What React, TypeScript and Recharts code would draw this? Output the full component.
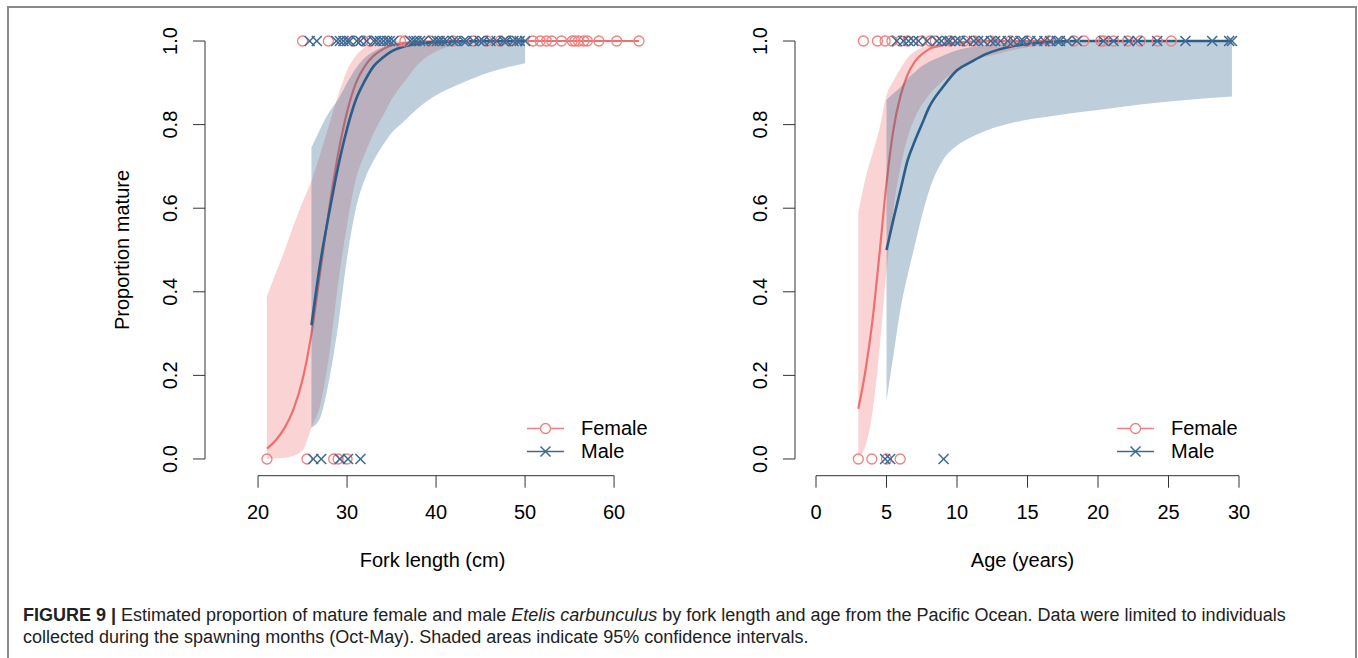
import React from 'react';
import { ComposedChart, Area, Line, Scatter, XAxis, YAxis, ReferenceLine } from 'recharts';

// fitted curves and 95% CI, fork length panel
const flFemFitX = [21, 22, 23, 24, 25, 26, 27, 28, 29, 30, 31, 32, 33, 34, 35, 37, 40, 50, 62.8];
const flFemFitY = [0.025, 0.045, 0.075, 0.12, 0.19, 0.3, 0.45, 0.6, 0.73, 0.83, 0.9, 0.94, 0.965, 0.98, 0.99, 0.996, 1, 1, 1];
const flMaleFitX = [26, 27, 28, 29, 30, 31, 32, 33, 34, 35, 37, 40, 45, 50];
const flMaleFitY = [0.32, 0.47, 0.59, 0.7, 0.79, 0.86, 0.905, 0.94, 0.96, 0.975, 0.99, 0.997, 1, 1];

const flFemBandX = [21, 22, 23, 24, 25, 26, 27, 28, 29, 30, 31, 32, 33, 34, 35, 36.7, 38, 40, 42, 45, 50, 62.8];
const flFemBandLo = [0, 0.002, 0.003, 0.008, 0.02, 0.075, 0.13, 0.25, 0.42, 0.56, 0.67, 0.73, 0.78, 0.82, 0.86, 0.91, 0.945, 0.975, 0.99, 0.997, 1, 1];
const flFemBandHi = [0.39, 0.445, 0.5, 0.56, 0.615, 0.665, 0.73, 0.8, 0.87, 0.93, 0.965, 0.985, 0.995, 1, 1, 1, 1, 1, 1, 1, 1, 1];
const flMaleBandX = [26, 27, 28, 29, 30, 31, 32, 33, 34, 35, 36, 38, 40, 43, 46, 50];
const flMaleBandLo = [0.075, 0.1, 0.19, 0.32, 0.48, 0.6, 0.67, 0.715, 0.75, 0.78, 0.8, 0.84, 0.87, 0.9, 0.925, 0.947];
const flMaleBandHi = [0.745, 0.79, 0.83, 0.86, 0.9, 0.935, 0.96, 0.975, 0.985, 0.99, 0.995, 1, 1, 1, 1, 1];

// observed maturity, fork length
const flFemMature = [25.0, 27.9, 30.7, 31.8, 32.6, 36.0, 36.5, 39.3, 41.9, 44.2, 45.7, 47.2, 48.3, 50.9, 51.7, 52.4, 53.0, 54.1, 55.3, 55.6, 56.0, 56.6, 57.0, 58.3, 60.3, 62.8];
const flFemImmature = [21.0, 25.5, 28.5, 29.0, 30.0];
const flMaleMature = [25.8, 26.6, 28.8, 29.2, 29.6, 30.0, 30.3, 31.1, 31.5, 32.2, 33.0, 33.3, 33.7, 34.1, 34.5, 34.8, 35.2, 37.1, 37.5, 37.8, 38.2, 38.6, 39.7, 40.1, 40.4, 40.8, 41.2, 41.9, 42.3, 43.1, 43.4, 44.2, 44.9, 45.3, 46.1, 46.8, 47.6, 47.9, 48.7, 49.1, 49.4, 50.0];
const flMaleImmature = [26.2, 27.1, 29.2, 30.1, 31.5];

// fitted curves and 95% CI, age panel
const ageFemFitX = [3, 3.5, 4, 4.5, 5, 5.5, 6, 6.5, 7, 8, 9, 10, 12, 25.2];
const ageFemFitY = [0.12, 0.21, 0.33, 0.49, 0.66, 0.79, 0.87, 0.92, 0.95, 0.98, 0.99, 0.996, 1, 1];
const ageMaleFitX = [5, 5.5, 6, 6.5, 7, 7.5, 8, 9, 10, 11, 12, 13, 14, 16, 18, 29.5];
const ageMaleFitY = [0.5, 0.575, 0.645, 0.715, 0.76, 0.8, 0.84, 0.89, 0.93, 0.95, 0.968, 0.98, 0.988, 0.996, 1, 1];

const ageFemBandX = [3, 3.5, 4, 4.5, 5, 5.5, 6, 6.5, 7, 8, 9, 10, 11, 13, 15, 18, 20, 25.2];
const ageFemBandLo = [0.005, 0.03, 0.11, 0.26, 0.45, 0.6, 0.7, 0.77, 0.815, 0.87, 0.905, 0.93, 0.95, 0.97, 0.985, 0.995, 1, 1];
const ageFemBandHi = [0.59, 0.67, 0.73, 0.79, 0.87, 0.905, 0.935, 0.96, 0.975, 0.99, 0.997, 1, 1, 1, 1, 1, 1, 1];
const ageMaleBandX = [5, 5.5, 6, 6.5, 7, 7.5, 8, 9, 10, 11, 12, 14, 17, 20, 23, 26, 29.5];
const ageMaleBandLo = [0.14, 0.25, 0.36, 0.44, 0.51, 0.58, 0.64, 0.715, 0.75, 0.77, 0.785, 0.805, 0.822, 0.835, 0.848, 0.858, 0.867];
const ageMaleBandHi = [0.859, 0.875, 0.89, 0.91, 0.925, 0.94, 0.95, 0.965, 0.978, 0.985, 0.99, 0.997, 1, 1, 1, 1, 1];

// observed maturity, age
const ageFemMature = [3.36, 4.36, 4.9, 5.38, 6.0, 6.5, 7.5, 8.1, 8.46, 9.5, 10.5, 11.2, 12.4, 13.8, 15.0, 16.5, 18.3, 19.0, 20.2, 20.4, 21.1, 22.1, 23.0, 24.2, 25.2];
const ageFemImmature = [3.0, 3.96, 5.0, 5.97];
const ageMaleMature = [5.73, 6.2, 6.56, 6.9, 7.27, 7.87, 8.58, 8.9, 9.3, 9.5, 9.88, 10.2, 10.7, 11.2, 11.5, 11.9, 12.4, 12.7, 13.1, 13.6, 14.0, 14.5, 14.7, 15.2, 15.7, 16.2, 16.6, 17.1, 17.3, 17.8, 18.5, 20.4, 21.1, 22.2, 22.8, 24.2, 26.2, 28.1, 29.3, 29.5];
const ageMaleImmature = [4.9, 5.26, 9.05];

const flTicks = [20, 30, 40, 50, 60];
const ageTicks = [0, 5, 10, 15, 20, 25, 30];
const yTicks = [0, 0.2, 0.4, 0.6, 0.8, 1];

const RED = '#ef6f6f';
const RED_PT = '#f27f7f';
const BLUE = '#2c5c88';
const BLUE_PT = '#3d6994';
const AXIS = '#333';
const FONT = '"Liberation Sans", Arial, Helvetica, sans-serif';

const curve = (xs: number[], ys: number[]) => xs.map((x, i) => ({ x, y: ys[i] }));
const band = (xs: number[], lo: number[], hi: number[]) => xs.map((x, i) => ({ x, ci: [lo[i], hi[i]] }));
const pts = (xs: number[], y: number) => xs.map((x) => ({ x, y }));

const OpenCircle = (p: any) => (
  <circle cx={p.cx} cy={p.cy} r={5} fill="none" stroke={RED_PT} strokeWidth={1.3} />
);

const Cross = (p: any) => {
  const s = 5;
  return (
    <g stroke={BLUE_PT} strokeWidth={1.5}>
      <line x1={p.cx - s} y1={p.cy - s} x2={p.cx + s} y2={p.cy + s} />
      <line x1={p.cx - s} y1={p.cy + s} x2={p.cx + s} y2={p.cy - s} />
    </g>
  );
};

const YTick = (props: any) => {
  const { x, y, payload } = props;
  return (
    <text x={x} y={y} dy="0.36em" textAnchor="middle" fontSize={20} fill="#000"
      transform={`rotate(-90, ${x}, ${y})`}>
      {Number(payload.value).toFixed(1)}
    </text>
  );
};

const PanelLegend = () => (
  <div style={{ position: 'absolute', left: 527, top: 417, fontSize: 20, lineHeight: '23px', color: '#000' }}>
    <div style={{ display: 'flex', alignItems: 'center', height: 23 }}>
      <svg width={54} height={23}>
        <line x1={0} y1={11.5} x2={37} y2={11.5} stroke={RED_PT} strokeWidth={1.5} />
        <circle cx={18.5} cy={11.5} r={5} fill="#fff" stroke={RED_PT} strokeWidth={1.3} />
      </svg>
      <span>Female</span>
    </div>
    <div style={{ display: 'flex', alignItems: 'center', height: 23 }}>
      <svg width={54} height={23}>
        <line x1={0} y1={11.5} x2={37} y2={11.5} stroke={BLUE_PT} strokeWidth={1.5} />
        <g stroke={BLUE_PT} strokeWidth={1.5}>
          <line x1={13.5} y1={6.5} x2={23.5} y2={16.5} />
          <line x1={13.5} y1={16.5} x2={23.5} y2={6.5} />
        </g>
      </svg>
      <span>Male</span>
    </div>
  </div>
);

interface PanelProps {
  femFit: any[];
  maleFit: any[];
  femBand: any[];
  maleBand: any[];
  femMature: any[];
  femImmature: any[];
  maleMature: any[];
  maleImmature: any[];
  xDomain: [number, number];
  xTicks: number[];
  xLabel: string;
  yLabel?: string;
  left: number;
}

const Panel: React.FC<PanelProps> = (p) => {
  const [x0] = p.xDomain;
  const t0 = p.xTicks[0];
  const t1 = p.xTicks[p.xTicks.length - 1];
  return (
    <div style={{ position: 'absolute', left: p.left, top: 0, width: 700, height: 600 }}>
      <ComposedChart width={700} height={600} margin={{ top: 24.3, right: 40, left: 105, bottom: 24.3 }}>
        <XAxis
          type="number"
          dataKey="x"
          domain={p.xDomain}
          ticks={p.xTicks}
          interval={0}
          allowDataOverflow
          axisLine={false}
          tickLine={{ stroke: AXIS }}
          tickSize={12}
          tickMargin={17}
          height={100}
          tick={{ fontSize: 20, fill: '#000' }}
          label={{ value: p.xLabel, position: 'insideBottom', offset: 9, fontSize: 20, fill: '#000' }}
        />
        <YAxis
          type="number"
          domain={[-0.04, 1.04]}
          ticks={yTicks}
          interval={0}
          allowDataOverflow
          axisLine={false}
          tickLine={{ stroke: AXIS }}
          tickSize={12}
          tickMargin={23}
          width={100}
          tick={<YTick />}
          label={
            p.yLabel
              ? { value: p.yLabel, angle: -90, position: 'insideLeft', offset: 16.7, fontSize: 20, fill: '#000', style: { textAnchor: 'middle' } }
              : undefined
          }
        />
        <ReferenceLine segment={[{ x: t0, y: -0.04 }, { x: t1, y: -0.04 }]} stroke={AXIS} ifOverflow="visible" />
        <ReferenceLine segment={[{ x: x0, y: 0 }, { x: x0, y: 1 }]} stroke={AXIS} ifOverflow="visible" />

        <Area data={p.femBand} dataKey="ci" type="monotone" stroke="none" fill={RED} fillOpacity={0.3}
          isAnimationActive={false} activeDot={false} />
        {/* female fit drawn as an unfilled area so the male band sits over it */}
        <Area data={p.femFit} dataKey="y" type="monotone" stroke={RED} strokeWidth={2.2} fill="none"
          fillOpacity={0} baseValue={-0.04} isAnimationActive={false} activeDot={false} dot={false} />
        <Area data={p.maleBand} dataKey="ci" type="monotone" stroke="none" fill={BLUE} fillOpacity={0.3}
          isAnimationActive={false} activeDot={false} />
        <Line data={p.maleFit} dataKey="y" type="monotone" stroke={BLUE} strokeWidth={2.6} dot={false}
          activeDot={false} isAnimationActive={false} />

        <Scatter data={p.femMature} dataKey="y" shape={OpenCircle} isAnimationActive={false} />
        <Scatter data={p.femImmature} dataKey="y" shape={OpenCircle} isAnimationActive={false} />
        <Scatter data={p.maleMature} dataKey="y" shape={Cross} isAnimationActive={false} />
        <Scatter data={p.maleImmature} dataKey="y" shape={Cross} isAnimationActive={false} />
      </ComposedChart>
      <PanelLegend />
    </div>
  );
};

const App: React.FC = () => {
  return (
    <div style={{ position: 'absolute', left: 0, top: 0, width: 1358, height: 658, background: '#fff', fontFamily: FONT, overflow: 'hidden' }}>
      <div style={{ position: 'absolute', left: 7, top: 6, width: 1346, height: 700, border: '2px solid #8a8a8a' }} />
      <Panel
        left={0}
        femFit={curve(flFemFitX, flFemFitY)}
        maleFit={curve(flMaleFitX, flMaleFitY)}
        femBand={band(flFemBandX, flFemBandLo, flFemBandHi)}
        maleBand={band(flMaleBandX, flMaleBandLo, flMaleBandHi)}
        femMature={pts(flFemMature, 1)}
        femImmature={pts(flFemImmature, 0)}
        maleMature={pts(flMaleMature, 1)}
        maleImmature={pts(flMaleImmature, 0)}
        xDomain={[14.04, 65.16]}
        xTicks={flTicks}
        xLabel="Fork length (cm)"
        yLabel="Proportion mature"
      />
      <Panel
        left={590}
        femFit={curve(ageFemFitX, ageFemFitY)}
        maleFit={curve(ageMaleFitX, ageMaleFitY)}
        femBand={band(ageFemBandX, ageFemBandLo, ageFemBandHi)}
        maleBand={band(ageMaleBandX, ageMaleBandLo, ageMaleBandHi)}
        femMature={pts(ageFemMature, 1)}
        femImmature={pts(ageFemImmature, 0)}
        maleMature={pts(ageMaleMature, 1)}
        maleImmature={pts(ageMaleImmature, 0)}
        xDomain={[-1.49, 30.78]}
        xTicks={ageTicks}
        xLabel="Age (years)"
      />
      <div style={{ position: 'absolute', left: 23, top: 604, fontSize: 18, lineHeight: '22px', color: '#222', whiteSpace: 'nowrap' }}>
        <b>FIGURE 9 |</b> Estimated proportion of mature female and male <i>Etelis carbunculus</i> by fork length and age from the Pacific Ocean. Data were limited to individuals
        <br />
        collected during the spawning months (Oct-May). Shaded areas indicate 95% confidence intervals.
      </div>
    </div>
  );
};

export default App;
